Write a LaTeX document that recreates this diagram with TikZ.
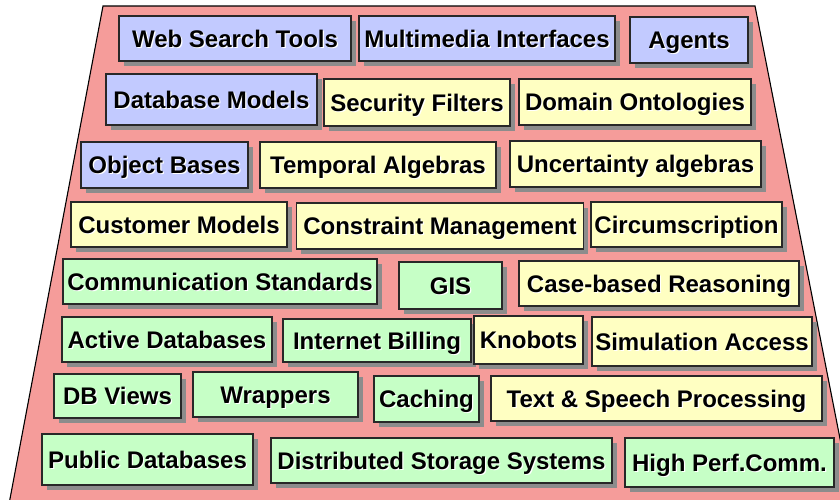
\documentclass[tikz,border=0pt]{standalone}
\usepackage{fontspec}
\setmainfont{Liberation Sans}
\usetikzlibrary{shadows}

\definecolor{trapfill}{RGB}{245,156,154}
\definecolor{bluefill}{RGB}{194,202,255}
\definecolor{yellowfill}{RGB}{255,255,194}
\definecolor{greenfill}{RGB}{198,255,198}
\definecolor{shadowgrey}{RGB}{140,140,140}
\definecolor{edgegrey}{RGB}{40,40,40}

% bold label with a faint white highlight offset down-right
\newcommand\lbl[1]{\makebox[0pt][l]{\hspace{1.2pt}\raisebox{-1.2pt}{\color{white}#1}}#1}

\tikzset{
  tbox/.style={draw=edgegrey, line width=1.3pt, inner sep=0pt,
    font=\fontsize{24}{26}\selectfont\bfseries,
    text height=17pt, text depth=0pt,
    drop shadow={shadow xshift=4.5pt, shadow yshift=-4.5pt, fill=shadowgrey, opacity=1}},
  bluebox/.style={tbox, fill=bluefill},
  yellowbox/.style={tbox, fill=yellowfill},
  greenbox/.style={tbox, fill=greenfill},
  sz/.style 2 args={minimum width=#1pt, minimum height=#2pt},
}

\begin{document}
\begin{tikzpicture}[x=1pt, y=-1pt]
\useasboundingbox (0,0) rectangle (840,499);
\begin{scope}
\clip (0,0) rectangle (840,499);
\draw[fill=trapfill, line width=1.1pt] (103,6) -- (755,6) -- (856,520) -- (6,520) -- cycle;
\end{scope}

% row 1
\node[bluebox, sz={232}{45}] (web)  at (235,38.5)   {\lbl{Web Search Tools}};
\node[bluebox, sz={256}{45}] (mm)   at (487,38.5)   {\lbl{Multimedia Interfaces}};
\node[bluebox, sz={118}{46}] (ag)   at (689,40)     {\lbl{Agents}};
% row 2
\node[bluebox, sz={211}{51}] (dbm)  at (211.5,99.5) {\lbl{Database Models}};
\node[yellowbox, sz={186}{47}] (sec) at (417,102.5) {\lbl{Security Filters}};
\node[yellowbox, sz={232}{46}] (ont) at (635,102)   {\lbl{Domain Ontologies}};
% row 3
\node[bluebox, sz={167}{46}] (ob)   at (164.5,165)  {\lbl{Object Bases}};
\node[yellowbox, sz={236}{46}] (ta) at (378,165)    {\lbl{Temporal Algebras}};
\node[yellowbox, sz={251}{46}] (ua) at (635.5,164)  {\lbl{Uncertainty algebras}};
% row 4
\node[yellowbox, sz={216}{45}] (cm) at (179,224.5)  {\lbl{Customer Models}};
\node[yellowbox, sz={287}{46}] (con) at (440,226)   {\lbl{Constraint Management}};
\node[yellowbox, sz={191}{45}] (cir) at (686.5,224.5) {\lbl{Circumscription}};
% row 5
\node[greenbox, sz={314}{45}] (com) at (220,281.5)  {\lbl{Communication Standards}};
\node[greenbox, sz={103}{47}] (gis) at (450.5,285.5) {\lbl{GIS}};
\node[yellowbox, sz={280}{45}] (cbr) at (659,283.5) {\lbl{Case-based Reasoning}};
% row 6
\node[greenbox, sz={210}{45}] (adb) at (167,339.5)  {\lbl{Active Databases}};
\node[greenbox, sz={188}{43}] (ib)  at (377,340.5)  {\lbl{Internet Billing}};
\node[yellowbox, sz={109}{48}] (kb) at (528.5,340)  {\lbl{Knobots}};
\node[yellowbox, sz={220}{49}] (sim) at (702,341.5) {\lbl{Simulation Access}};
% row 7
\node[greenbox, sz={127}{44}] (dbv) at (117.5,396)  {\lbl{DB Views}};
\node[greenbox, sz={165}{45}] (wr)  at (275.5,394.5) {\lbl{Wrappers}};
\node[greenbox, sz={105}{46}] (ca)  at (426.5,399)  {\lbl{Caching}};
\node[yellowbox, sz={331}{45}] (tsp) at (656.5,398.5) {\lbl{Text \& Speech Processing}};
% row 8
\node[greenbox, sz={211}{51}] (pub) at (147.5,459.5) {\lbl{Public Databases}};
\node[greenbox, sz={341}{45}] (dss) at (441.5,460.5) {\lbl{Distributed Storage Systems}};
\node[greenbox, sz={209}{49}] (hpc) at (729.5,462.5) {\lbl{High Perf.Comm.}};
\end{tikzpicture}
\end{document}
